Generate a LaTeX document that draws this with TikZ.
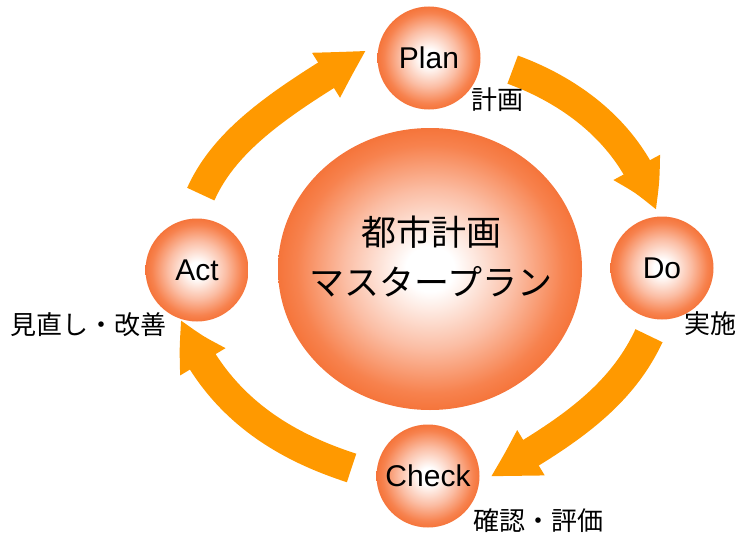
\documentclass[tikz,border=0pt]{standalone}
\usepackage{fontspec}
\setmainfont{Liberation Sans}
\newfontfamily\jp{Noto Sans CJK JP}
\usepackage{tikz}
\usetikzlibrary{arrows.meta,bending,shapes.geometric}

\definecolor{orbedge}{RGB}{242,94,26}
\definecolor{orbouter}{RGB}{247,130,78}
\definecolor{orbmid}{RGB}{251,190,165}
\definecolor{flow}{RGB}{255,153,0}
\pgfdeclareradialshading{orbshade}{\pgfpointorigin}{%
    color(0bp)=(white); color(4bp)=(white); color(14bp)=(orbmid);
    color(22bp)=(orbouter); color(30bp)=(orbedge); color(50bp)=(orbedge)}

\tikzset{
    phase/.style={circle,minimum size=103pt,inner sep=0pt,shading=orbshade,
        font=\fontsize{30}{36}\selectfont},
    note/.style={font=\jp\fontsize{26}{30}\selectfont},
    pdcaflow/.style={line width=30pt,draw=flow,
        -{Triangle[length=50pt,width=48pt,bend]}},
}

\begin{document}
\begin{tikzpicture}[x=1pt,y=-1pt]
    \useasboundingbox (0,0) rectangle (739,535);
    \path
        (430,269)   node[ellipse,shading=orbshade,minimum width=304pt,minimum height=282pt] (master){}
        (431,256)   node[align=center,font=\jp\fontsize{35}{50}\selectfont] (mastertext){都市計画\\マスタープラン}
        (429,58)    node[phase] (plan){Plan}
        (662,268)   node[phase] (do){Do}
        (428,476)   node[phase] (check){Check}
        (197,270)   node[phase] (act){Act}
        ;
    \draw [pdcaflow,shorten <=34pt,shorten >=6pt] (plan.east) to[out=-20,in=106] (do.95);
    \draw [pdcaflow,shorten <=18pt,shorten >=13pt] (do.-96) to[out=-115,in=30] (check.-8);
    \draw [pdcaflow,shorten <=26pt,shorten >=0pt] (check.west) to[out=162,in=-68] (act.-108);
    \draw [pdcaflow,shorten <=27pt,shorten >=16pt] (act.98) to[out=66,in=-148] (plan.162);
    \path
        (497,100)   node[note] (plantext){計画}
        (710,324)   node[note] (dotext){実施}
        (538,521)   node[note] (checktext){確認・評価}
        (88,325)    node[note] (acttext){見直し・改善}
        ;
\end{tikzpicture}
\end{document}
